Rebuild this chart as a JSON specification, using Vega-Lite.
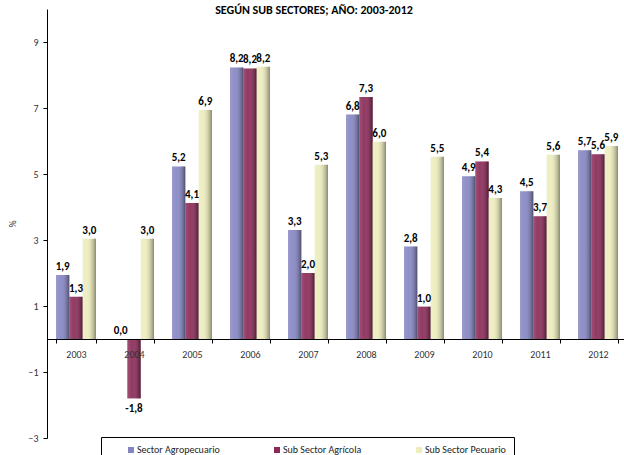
{
  "$schema": "https://vega.github.io/schema/vega-lite/v6.json",
  "width": 580,
  "height": 429,
  "autosize": {"type": "none"},
  "padding": {"left": 47, "top": 9, "right": 0, "bottom": 17},
  "background": "white",
  "title": {
    "text": "SEGÚN SUB SECTORES; AÑO: 2003-2012",
    "font": "Carlito, Liberation Sans Narrow, Liberation Sans",
    "fontSize": 12,
    "fontWeight": "bold",
    "color": "#000000",
    "anchor": "middle",
    "dx": -23,
    "offset": -8
  },
  "data": {
    "values": [
      {"year": "2003", "series": "Sector Agropecuario", "value": 1.94, "label": "1,9"},
      {"year": "2003", "series": "Sub Sector Agrícola", "value": 1.28, "label": "1,3"},
      {"year": "2003", "series": "Sub Sector Pecuario", "value": 3.04, "label": "3,0"},
      {"year": "2004", "series": "Sector Agropecuario", "value": 0.0, "label": "0,0"},
      {"year": "2004", "series": "Sub Sector Agrícola", "value": -1.8, "label": "-1,8"},
      {"year": "2004", "series": "Sub Sector Pecuario", "value": 3.04, "label": "3,0"},
      {"year": "2005", "series": "Sector Agropecuario", "value": 5.23, "label": "5,2"},
      {"year": "2005", "series": "Sub Sector Agrícola", "value": 4.12, "label": "4,1"},
      {"year": "2005", "series": "Sub Sector Pecuario", "value": 6.94, "label": "6,9"},
      {"year": "2006", "series": "Sector Agropecuario", "value": 8.23, "label": "8,2"},
      {"year": "2006", "series": "Sub Sector Agrícola", "value": 8.2, "label": "8,2"},
      {"year": "2006", "series": "Sub Sector Pecuario", "value": 8.25, "label": "8,2"},
      {"year": "2007", "series": "Sector Agropecuario", "value": 3.3, "label": "3,3"},
      {"year": "2007", "series": "Sub Sector Agrícola", "value": 2.0, "label": "2,0"},
      {"year": "2007", "series": "Sub Sector Pecuario", "value": 5.28, "label": "5,3"},
      {"year": "2008", "series": "Sector Agropecuario", "value": 6.8, "label": "6,8"},
      {"year": "2008", "series": "Sub Sector Agrícola", "value": 7.33, "label": "7,3"},
      {"year": "2008", "series": "Sub Sector Pecuario", "value": 5.98, "label": "6,0"},
      {"year": "2009", "series": "Sector Agropecuario", "value": 2.8, "label": "2,8"},
      {"year": "2009", "series": "Sub Sector Agrícola", "value": 0.98, "label": "1,0"},
      {"year": "2009", "series": "Sub Sector Pecuario", "value": 5.52, "label": "5,5"},
      {"year": "2010", "series": "Sector Agropecuario", "value": 4.93, "label": "4,9"},
      {"year": "2010", "series": "Sub Sector Agrícola", "value": 5.38, "label": "5,4"},
      {"year": "2010", "series": "Sub Sector Pecuario", "value": 4.27, "label": "4,3"},
      {"year": "2011", "series": "Sector Agropecuario", "value": 4.48, "label": "4,5"},
      {"year": "2011", "series": "Sub Sector Agrícola", "value": 3.72, "label": "3,7"},
      {"year": "2011", "series": "Sub Sector Pecuario", "value": 5.58, "label": "5,6"},
      {"year": "2012", "series": "Sector Agropecuario", "value": 5.72, "label": "5,7"},
      {"year": "2012", "series": "Sub Sector Agrícola", "value": 5.6, "label": "5,6"},
      {"year": "2012", "series": "Sub Sector Pecuario", "value": 5.85, "label": "5,9"}
    ]
  },
  "encoding": {
    "x": {
      "field": "year",
      "type": "nominal",
      "scale": {"paddingInner": 0.31, "paddingOuter": 0.155},
      "axis": {
        "title": null,
        "orient": "bottom",
        "offset": -99,
        "labelAngle": 0,
        "tickBand": "extent",
        "tickSize": 4,
        "tickColor": "#000000",
        "domainColor": "#000000",
        "labelPadding": 6,
        "labelFont": "Carlito, Liberation Sans Narrow, Liberation Sans",
        "labelFontSize": 10,
        "labelColor": "#333333",
        "grid": false,
        "zindex": 1
      }
    },
    "xOffset": {
      "field": "series",
      "type": "nominal",
      "scale": {
        "domain": ["Sector Agropecuario", "Sub Sector Agrícola", "Sub Sector Pecuario"],
        "paddingInner": 0,
        "paddingOuter": 0
      }
    },
    "y": {
      "field": "value",
      "type": "quantitative",
      "scale": {"domain": [-3, 10], "nice": false},
      "axis": {
        "title": "%",
        "titleFont": "Carlito, Liberation Sans Narrow, Liberation Sans",
        "titleFontSize": 10,
        "titleFontWeight": "normal",
        "titleColor": "#333333",
        "titlePadding": 10,
        "values": [-3, -1, 1, 3, 5, 7, 9],
        "tickSize": 4,
        "tickColor": "#000000",
        "domainColor": "#000000",
        "labelPadding": 5,
        "labelFont": "Carlito, Liberation Sans Narrow, Liberation Sans",
        "labelFontSize": 10,
        "labelColor": "#333333",
        "grid": false
      }
    }
  },
  "layer": [
    {
      "mark": {"type": "bar"},
      "encoding": {
        "color": {
          "field": "series",
          "type": "nominal",
          "scale": {
            "domain": ["Sector Agropecuario", "Sub Sector Agrícola", "Sub Sector Pecuario"],
            "range": ["#8585c4", "#8a2856", "#ececbc"]
          },
          "legend": {
            "title": null,
            "orient": "none",
            "legendX": 54,
            "legendY": 428,
            "direction": "horizontal",
            "columns": 3,
            "columnPadding": 35,
            "symbolType": "square",
            "symbolSize": 36,
            "symbolStrokeWidth": 0,
            "symbolOffset": 17,
            "labelOffset": 1,
            "labelFont": "Carlito, Liberation Sans Narrow, Liberation Sans",
            "labelFontSize": 10,
            "labelColor": "#222222",
            "padding": 8,
            "strokeColor": "#000000",
            "fillColor": "white"
          }
        }
      }
    },
    {
      "mark": {
        "type": "bar",
        "color": {
          "gradient": "linear",
          "x1": 0, "y1": 0, "x2": 1, "y2": 0,
          "stops": [
            {"offset": 0, "color": "rgba(255,255,255,0.18)"},
            {"offset": 0.35, "color": "rgba(255,255,255,0.08)"},
            {"offset": 1, "color": "rgba(0,0,0,0.42)"}
          ]
        }
      },
      "encoding": {}
    },
    {
      "transform": [{"filter": "datum.value >= 0"}],
      "mark": {
        "type": "text",
        "baseline": "bottom",
        "dy": -3,
        "font": "Carlito, Liberation Sans Narrow, Liberation Sans",
        "fontSize": 11,
        "fontWeight": "bold",
        "color": "#000000"
      },
      "encoding": {"text": {"field": "label"}}
    },
    {
      "transform": [{"filter": "datum.value < 0"}],
      "mark": {
        "type": "text",
        "baseline": "top",
        "dy": 5,
        "font": "Carlito, Liberation Sans Narrow, Liberation Sans",
        "fontSize": 11,
        "fontWeight": "bold",
        "color": "#000000"
      },
      "encoding": {"text": {"field": "label"}}
    }
  ],
  "config": {"view": {"stroke": null}}
}
